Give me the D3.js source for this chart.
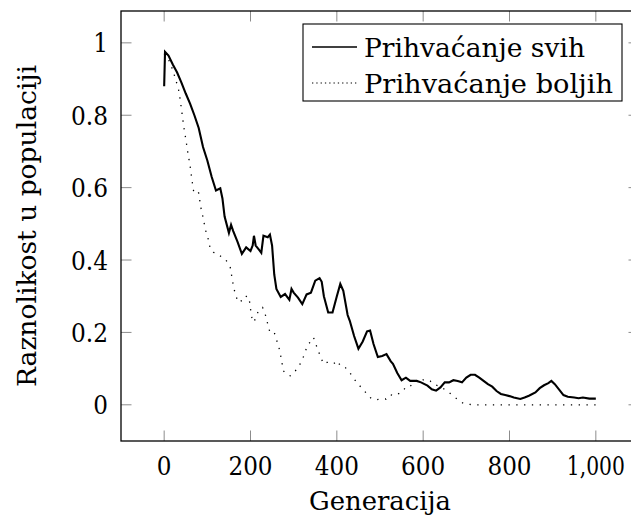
<!DOCTYPE html>
<html>
<head>
<meta charset="utf-8">
<script src="https://cdn.jsdelivr.net/npm/d3@7"></script>
<style>
  html, body { margin: 0; padding: 0; background: #fff; }
  svg { display: block; }
  svg text { font-family: "DejaVu Serif"; }
</style>
</head>
<body>
<svg id="chart" width="631" height="518"></svg>
<script>
// Diversity of the population over generations, for two acceptance rules.
const genSvih = [0, 2, 10, 20, 30, 40, 50, 60, 70, 80, 90, 100, 110, 120, 130, 135, 140, 150, 155, 160,
  170, 180, 190, 200, 205, 208, 212, 220, 225, 230, 240, 245, 250, 255, 260, 270, 280, 290, 295, 300,
  310, 320, 330, 340, 350, 360, 365, 370, 380, 390, 400, 408, 415, 425, 430, 440, 450, 460, 470, 477,
  485, 495, 505, 515, 525, 530, 540, 550, 560, 570, 585, 595, 610, 620, 630, 640, 650, 660, 670, 680,
  690, 700, 710, 720, 730, 740, 750, 760, 770, 780, 790, 800, 810, 825, 835, 845, 860, 870, 880, 890,
  897, 905, 915, 925, 935, 950, 960, 970, 985, 1000];
const svih = [0.88, 0.975, 0.965, 0.94, 0.918, 0.89, 0.86, 0.832, 0.80, 0.765, 0.712, 0.675, 0.63, 0.592, 0.598, 0.57, 0.52, 0.475, 0.497, 0.48,
  0.45, 0.417, 0.435, 0.425, 0.44, 0.467, 0.44, 0.428, 0.42, 0.467, 0.463, 0.47, 0.44, 0.36, 0.32, 0.298, 0.306, 0.29, 0.32, 0.31,
  0.296, 0.278, 0.305, 0.31, 0.343, 0.35, 0.34, 0.3, 0.255, 0.255, 0.3, 0.334, 0.315, 0.248, 0.232, 0.19, 0.155, 0.175, 0.203, 0.205,
  0.168, 0.132, 0.135, 0.14, 0.12, 0.113, 0.088, 0.068, 0.075, 0.066, 0.066, 0.062, 0.053, 0.043, 0.039, 0.048, 0.062, 0.062, 0.068, 0.066,
  0.062, 0.075, 0.083, 0.083, 0.075, 0.066, 0.057, 0.05, 0.038, 0.03, 0.027, 0.024, 0.02, 0.016, 0.02, 0.025, 0.034, 0.046, 0.054, 0.06,
  0.066, 0.057, 0.042, 0.027, 0.022, 0.02, 0.018, 0.02, 0.017, 0.017];

const genBoljih = [0, 10, 20, 25, 33, 37, 41, 45, 50, 56, 60, 64, 68, 75, 80, 85, 91, 95, 102, 107,
  114, 125, 134, 141, 149, 153, 157, 161, 166, 172, 180, 186, 191, 197, 200, 203, 208, 215, 222, 228,
  234, 240, 245, 255, 261, 268, 272, 276, 284, 292, 300, 307, 315, 322, 329, 334, 342, 346, 350, 357,
  363, 369, 377, 384, 392, 401, 407, 415, 423, 430, 438, 446, 455, 463, 471, 481, 492, 504, 514, 523,
  533, 542, 550, 558, 566, 573, 581, 593, 604, 616, 623, 633, 643, 654, 664, 674, 684, 693, 708, 720,
  800, 900, 1000];
const boljih = [0.97, 0.955, 0.925, 0.905, 0.873, 0.845, 0.808, 0.771, 0.735, 0.688, 0.661, 0.624, 0.592, 0.596, 0.585, 0.545, 0.513, 0.486, 0.458, 0.43,
  0.421, 0.417, 0.407, 0.403, 0.39, 0.38, 0.352, 0.324, 0.301, 0.283, 0.288, 0.288, 0.301, 0.292, 0.265, 0.242, 0.228, 0.251, 0.265, 0.269,
  0.251, 0.223, 0.2, 0.2, 0.177, 0.149, 0.122, 0.094, 0.085, 0.08, 0.087, 0.099, 0.113, 0.131, 0.154, 0.168, 0.177, 0.186, 0.172, 0.149,
  0.131, 0.113, 0.117, 0.117, 0.113, 0.122, 0.11, 0.108, 0.099, 0.089, 0.075, 0.062, 0.05, 0.04, 0.028, 0.016, 0.014, 0.016, 0.016, 0.028,
  0.025, 0.03, 0.034, 0.046, 0.046, 0.055, 0.062, 0.074, 0.066, 0.066, 0.057, 0.053, 0.048, 0.039, 0.03, 0.02, 0.012, 0.004, 0.001, 0,
  0, 0, 0];

const xTicks = [0, 200, 400, 600, 800, 1000];
const xTickLabels = ["0", "200", "400", "600", "800", "1,000"];
const yTicks = [0, 0.2, 0.4, 0.6, 0.8, 1];
const yTickLabels = ["0", "0.2", "0.4", "0.6", "0.8", "1"];
const seriesNames = ["Prihvaćanje svih", "Prihvaćanje boljih"];
const xTitle = "Generacija";
const yTitle = "Raznolikost u populaciji";

const svg = d3.select("#chart");
const plotL = 121, plotR = 639, plotT = 11, plotB = 441;
const fontSize = 26;
const tickLen = 10.5;

const x = d3.scaleLinear().domain([-100, 1100]).range([plotL, plotR]);
const y = d3.scaleLinear().domain([-0.1, 1.088]).range([plotB, plotT]);

// Tick marks (inside, on all four sides)
const tickColor = "#8c8c8c";
const gTicks = svg.append("g").attr("stroke", tickColor).attr("stroke-width", 1);
xTicks.forEach(t => {
  gTicks.append("line").attr("x1", x(t)).attr("x2", x(t)).attr("y1", plotB).attr("y2", plotB - tickLen);
  gTicks.append("line").attr("x1", x(t)).attr("x2", x(t)).attr("y1", plotT).attr("y2", plotT + tickLen);
});
yTicks.forEach(t => {
  gTicks.append("line").attr("y1", y(t)).attr("y2", y(t)).attr("x1", plotL).attr("x2", plotL + tickLen);
  gTicks.append("line").attr("y1", y(t)).attr("y2", y(t)).attr("x1", plotR).attr("x2", plotR - tickLen);
});

// Series
const lineSvih = d3.line().x((d, i) => x(genSvih[i])).y(d => y(d));
const lineBoljih = d3.line().x((d, i) => x(genBoljih[i])).y(d => y(d));

svg.append("path")
  .attr("d", lineBoljih(boljih))
  .attr("fill", "none")
  .attr("stroke", "#000")
  .attr("stroke-width", 1.3)
  .attr("stroke-dasharray", "1.3 6.5");

svg.append("path")
  .attr("d", lineSvih(svih))
  .attr("fill", "none")
  .attr("stroke", "#000")
  .attr("stroke-width", 2.1)
  .attr("stroke-linejoin", "miter");

// Axis frame
svg.append("rect")
  .attr("x", plotL).attr("y", plotT)
  .attr("width", plotR - plotL).attr("height", plotB - plotT)
  .attr("fill", "none").attr("stroke", "#000").attr("stroke-width", 1.3);

// Tick labels
const gx = svg.append("g");
xTicks.forEach((t, i) => {
  gx.append("text").attr("x", x(t)).attr("y", 475)
    .attr("text-anchor", "middle").attr("font-size", fontSize)
    .attr("textLength", xTickLabels[i].length === 5 ? 58 : xTickLabels[i].length * 14.7)
    .attr("lengthAdjust", "spacingAndGlyphs")
    .text(xTickLabels[i]);
});
const gy = svg.append("g");
yTicks.forEach((t, i) => {
  gy.append("text").attr("x", 108).attr("y", y(t) + 9.5)
    .attr("text-anchor", "end").attr("font-size", fontSize)
    .attr("textLength", yTickLabels[i].length === 3 ? 37 : 14.7)
    .attr("lengthAdjust", "spacingAndGlyphs")
    .text(yTickLabels[i]);
});

// Axis titles
svg.append("text")
  .attr("x", (plotL + plotR) / 2).attr("y", 510)
  .attr("text-anchor", "middle").attr("font-size", fontSize)
  .attr("textLength", 142).attr("lengthAdjust", "spacingAndGlyphs")
  .text(xTitle);

svg.append("text")
  .attr("transform", `translate(36, ${(plotT + plotB) / 2}) rotate(-90)`)
  .attr("text-anchor", "middle").attr("font-size", fontSize)
  .attr("textLength", 322).attr("lengthAdjust", "spacingAndGlyphs")
  .text(yTitle);

// Legend
const lg = svg.append("g");
lg.append("rect")
  .attr("x", 303).attr("y", 24).attr("width", 319).attr("height", 77)
  .attr("fill", "#fff").attr("stroke", "#000").attr("stroke-width", 1.1);
const rows = [
  { name: seriesNames[0], cy: 47, dash: null, w: 1.3, len: 221 },
  { name: seriesNames[1], cy: 83, dash: "1.3 3", w: 1.2, len: 249 }
];
rows.forEach(r => {
  const ln = lg.append("line")
    .attr("x1", 312).attr("x2", 357).attr("y1", r.cy).attr("y2", r.cy)
    .attr("stroke", "#000").attr("stroke-width", r.w);
  if (r.dash) ln.attr("stroke-dasharray", r.dash);
  lg.append("text")
    .attr("x", 364).attr("y", r.cy + 9.5)
    .attr("font-size", fontSize)
    .attr("textLength", r.len)
    .attr("lengthAdjust", "spacingAndGlyphs")
    .text(r.name);
});
</script>
</body>
</html>
